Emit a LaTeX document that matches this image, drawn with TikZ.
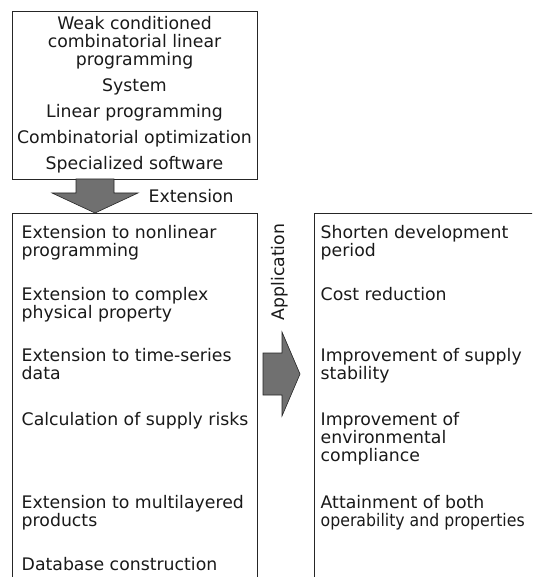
\documentclass[tikz,border=0pt]{standalone}
\usepackage{fontspec}
\usepackage{graphicx}
\setmainfont{DejaVu Sans}
\definecolor{arrowgray}{RGB}{112,112,112}

\begin{document}
\begin{tikzpicture}[
  x = 1pt,
  y = -1pt,
  every node/.style = {
    font = \fontsize{17.3}{18}\selectfont,
    text = black!90
  },
  box/.style = {
    draw = black!85,
    line width = 0.8pt,
    inner sep = 2pt
  },
  item/.style = {
    anchor = north west,
    inner sep = 0pt,
    align = left,
    yshift = 13.1pt
  },
  blockarrow/.style = {
    draw = black!85,
    fill = arrowgray,
    line width = 0.6pt,
    line join = miter
  }
]
  \clip (0,0) rectangle (532,577);

  \node[box, align = center, minimum width = 245pt, minimum height = 168pt] (core) at (134.5,95)
    {Weak conditioned\\combinatorial linear\\programming\\[8pt]
     System\\[8pt]
     Linear programming\\[8pt]
     Combinatorial optimization\\[8pt]
     Specialized software};

  \node[box, anchor = north west, minimum width = 245pt, minimum height = 420pt] (ext) at (12,213) {};
  \node[box, anchor = north west, minimum width = 300pt, minimum height = 420pt] (app) at (314,213) {};

  \draw[blockarrow] (76,179) -- (76,193) -- (52,193) -- (95,213) -- (138,193) -- (114,193) -- (114,179) -- cycle;
  \node[anchor = base west, inner sep = 0pt] (extlabel) at (148.5,203) {Extension};

  \draw[blockarrow] (263,353) -- (282,353) -- (282,332) -- (300,374) -- (282,416) -- (282,395) -- (263,395) -- cycle;
  \node[rotate = 90, inner sep = 0pt] (applabel) at (280,272) {Application};

  \node[item] (e1) at (21.5,238) {Extension to nonlinear\\programming};
  \node[item] (e2) at (21.5,300) {Extension to complex\\physical property};
  \node[item] (e3) at (21.5,361) {Extension to time-series\\data};
  \node[item] (e4) at (21.5,425) {Calculation of supply risks};
  \node[item] (e5) at (21.5,508) {Extension to multilayered\\products};
  \node[item] (e6) at (21.5,570) {Database construction};

  \node[item] (a1) at (320.5,238) {Shorten development\\period};
  \node[item] (a2) at (320.5,300) {Cost reduction};
  \node[item] (a3) at (320.5,361) {Improvement of supply\\stability};
  \node[item] (a4) at (320.5,425) {Improvement of\\environmental\\compliance};
  \node[item] (a5) at (320.5,508) {Attainment of both\\\scalebox{0.91}[1]{operability and properties}};
\end{tikzpicture}
\end{document}
